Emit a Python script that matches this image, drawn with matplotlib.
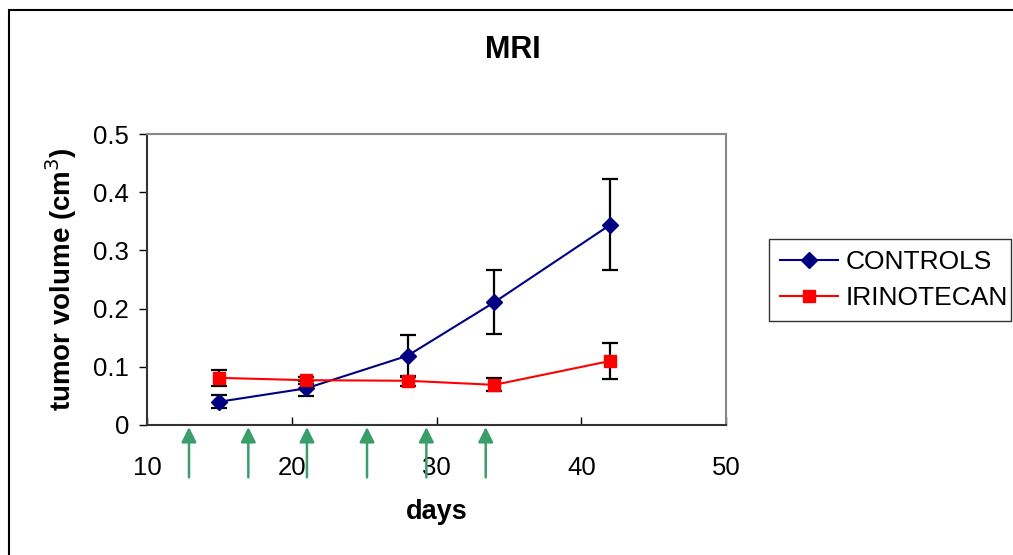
import matplotlib
matplotlib.use("Agg")
import matplotlib.pyplot as plt
from matplotlib.patches import Rectangle

plt.rcParams['font.family'] = ['Liberation Sans', 'DejaVu Sans']

# Data
days = [15, 21, 28, 34, 42]
controls = [0.040, 0.063, 0.119, 0.211, 0.344]
controls_err = [0.011, 0.013, 0.036, 0.055, 0.078]
irinotecan = [0.081, 0.077, 0.076, 0.069, 0.110]
irinotecan_err = [0.014, 0.006, 0.009, 0.011, 0.031]
treatment_days = [12.9, 17.0, 21.05, 25.2, 29.3, 33.4]
xticks = [10, 20, 30, 40, 50]
yticks = [0, 0.1, 0.2, 0.3, 0.4, 0.5]
ytick_labels = ['0', '0.1', '0.2', '0.3', '0.4', '0.5']

W, H = 1013, 555
fig = plt.figure(figsize=(W / 100, H / 100), dpi=100)
ax = fig.add_axes([147 / W, 1 - 425 / H, (726 - 147) / W, (425 - 134) / H])

ax.errorbar(days, controls, yerr=controls_err, fmt='none', ecolor='black',
            elinewidth=1.6, capsize=6, capthick=1.6, zorder=2)
ax.errorbar(days, irinotecan, yerr=irinotecan_err, fmt='none', ecolor='black',
            elinewidth=1.6, capsize=6, capthick=1.6, zorder=2)
ax.plot(days, controls, color='#000080', marker='D', markersize=8,
        linewidth=1.5, label='CONTROLS', zorder=3)
ax.plot(days, irinotecan, color='#FF0000', marker='s', markersize=8.5,
        linewidth=1.5, label='IRINOTECAN', zorder=4)

ax.set_xlim(10, 50)
ax.set_ylim(0, 0.5)
ax.set_xticks(xticks)
ax.set_yticks(yticks)
ax.set_yticklabels(ytick_labels)
ax.tick_params(axis='x', direction='in', length=6, width=1, pad=22, labelsize=18.5)
ax.tick_params(axis='y', direction='out', length=6, width=1, pad=7, labelsize=18.5)

for s in ['top', 'right']:
    ax.spines[s].set_color('#888888')
    ax.spines[s].set_linewidth(1.5)
for s in ['left', 'bottom']:
    ax.spines[s].set_color('#333333')
    ax.spines[s].set_linewidth(1.5)

ax.set_xlabel('days', fontsize=19.5, fontweight='bold', labelpad=14)
ax.set_ylabel('tumor volume (cm$^3$)', fontsize=20, fontweight='bold', labelpad=10)

# treatment arrows below the axis
trans = ax.get_xaxis_transform()
for d in treatment_days:
    ax.annotate('', xy=(d, -0.007), xytext=(d, -0.18), xycoords=trans,
                textcoords=trans, annotation_clip=False,
                arrowprops=dict(arrowstyle='-|>,head_length=0.9,head_width=0.45',
                                color='#3A9E6A', lw=1.8, shrinkA=0, shrinkB=0))

fig.text(513 / W, 1 - 50 / H, 'MRI', fontsize=22, fontweight='bold',
         ha='center', va='center')

leg = fig.legend(loc='center', bbox_to_anchor=(769 / W, 1 - 324 / H, 242 / W, 88 / H),
                 mode='expand', fontsize=19, frameon=True, fancybox=False,
                 edgecolor='black', handlelength=2.2, handletextpad=0.3,
                 borderpad=0.42, labelspacing=0.45, borderaxespad=0)
leg.get_frame().set_linewidth(1.0)

# outer chart border (extends past right/bottom edges)
fig.patches.append(Rectangle((9 / W, -0.1), 1.2, 1.1 - 10 / H,
                             transform=fig.transFigure, fill=False,
                             edgecolor='black', linewidth=1.5))

fig.savefig('out.png', dpi=100)
